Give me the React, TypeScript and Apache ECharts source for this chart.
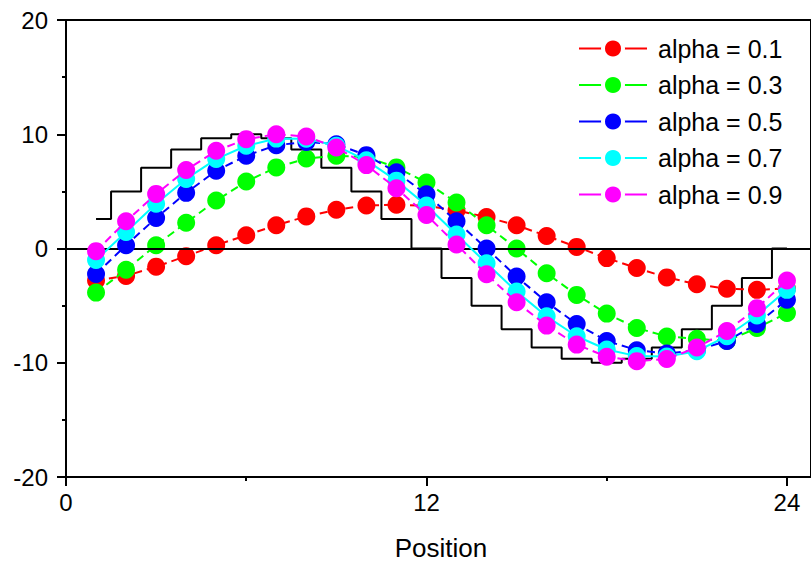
import React, { useEffect, useRef } from "react";
import * as echarts from "echarts";

// Sample positions along the x axis
const positions = [1, 2, 3, 4, 5, 6, 7, 8, 9, 10, 11, 12, 13, 14, 15, 16, 17, 18, 19, 20, 21, 22, 23, 24];

// Reference signal drawn as a step line
const signal = [
  2.59, 5, 7.07, 8.66, 9.66, 10, 9.66, 8.66, 7.07, 5, 2.59, 0,
  -2.59, -5, -7.07, -8.66, -9.66, -10, -9.66, -8.66, -7.07, -5, -2.59, 0,
];

// Exponentially smoothed curves for each alpha
const alpha01 = [
  -2.8, -2.4, -1.59, -0.67, 0.29, 1.16, 2.03, 2.81, 3.39, 3.77, 3.83, 3.75,
  3.33, 2.75, 2.03, 1.1, 0.14, -0.84, -1.71, -2.53, -3.13, -3.52, -3.62, -3.5,
];
const alpha03 = [
  -3.86, -1.86, 0.29, 2.26, 4.2, 5.86, 7.1, 7.88, 8.12, 8.0, 7.1, 5.77,
  4.03, 2.03, 0, -2.17, -4.06, -5.7, -6.96, -7.7, -7.9, -8.1, -6.96, -5.65,
];
const alpha05 = [
  -2.23, 0.29, 2.67, 4.87, 6.81, 8.12, 9.04, 9.33, 9.13, 8.17, 6.67, 4.74,
  2.38, 0.0, -2.46, -4.7, -6.61, -8.09, -8.9, -9.2, -8.9, -8.09, -6.61, -4.49,
];
const alpha07 = [
  -1.01, 1.45, 3.91, 6.09, 7.83, 8.99, 9.62, 9.6, 8.99, 7.72, 5.94, 3.77,
  1.22, -1.3, -3.77, -5.94, -7.68, -8.84, -9.42, -9.45, -8.99, -7.68, -5.86, -3.62,
];
const alpha09 = [
  -0.23, 2.38, 4.78, 6.87, 8.55, 9.57, 10.0, 9.8, 8.84, 7.3, 5.27, 2.93,
  0.35, -2.26, -4.7, -6.75, -8.41, -9.47, -9.86, -9.67, -8.67, -7.22, -5.22, -2.8,
];

const seriesNames = ["alpha = 0.1", "alpha = 0.3", "alpha = 0.5", "alpha = 0.7", "alpha = 0.9"];
const seriesValues = [alpha01, alpha03, alpha05, alpha07, alpha09];
const seriesColors = ["#ff0000", "#00ff00", "#0000ff", "#00ffff", "#ff00ff"];
const seriesDashed = [true, true, true, false, true];

const xMajorTicks = [0, 12, 24];
const xMinorTicks = [6, 18];
const xAxisName = "Position";

const FONT = "'Liberation Sans', Arial, Helvetica, sans-serif";

export default function App() {
  const ref = useRef<HTMLDivElement>(null);

  useEffect(() => {
    if (!ref.current) return;
    const chart = echarts.init(ref.current, undefined, { renderer: "svg" });

    const pairs = (vals: number[]) => positions.map((x, i) => [x, vals[i]]);

    const smoothSeries = seriesNames.map((name, k) => ({
      name,
      type: "line",
      xAxisIndex: 0,
      yAxisIndex: 0,
      data: pairs(seriesValues[k]),
      symbol: "circle",
      symbolSize: 18,
      showSymbol: true,
      itemStyle: { color: seriesColors[k] },
      lineStyle: {
        color: seriesColors[k],
        width: 2,
        type: seriesDashed[k] ? [8, 5] : "solid",
      },
      emphasis: { disabled: true },
      z: 3 + k,
    }));

    const option: any = {
      animation: false,
      textStyle: { fontFamily: FONT },
      grid: {
        left: 66,
        top: 20,
        right: 0,
        bottom: 86,
        show: true,
        borderColor: "#000",
        borderWidth: 2,
        backgroundColor: "transparent",
      },
      legend: {
        orient: "vertical",
        left: 573,
        top: 31,
        itemWidth: 68,
        itemHeight: 25,
        itemGap: 11.5,
        data: seriesNames,
        textStyle: { fontSize: 25, color: "#000", fontFamily: FONT, padding: [0, 0, 0, 6] },
        lineStyle: { type: "solid", width: 2 },
        itemStyle: { borderColor: "#fff", borderWidth: 4 },
        selectedMode: false,
      },
      xAxis: [
        {
          type: "value",
          min: 0,
          max: 24.8,
          position: "bottom",
          name: xAxisName,
          nameLocation: "middle",
          nameGap: 58,
          nameTextStyle: { fontSize: 26, color: "#000", fontFamily: FONT, padding: [0, 0, 0, 5] },
          axisLine: { show: true, onZero: false, lineStyle: { color: "#000", width: 2 } },
          axisTick: {
            show: true,
            inside: false,
            length: 9,
            customValues: xMajorTicks,
            lineStyle: { color: "#000", width: 2 },
          },
          axisLabel: {
            fontSize: 24,
            color: "#000",
            fontFamily: FONT,
            margin: 13,
            customValues: xMajorTicks,
          },
          splitLine: { show: false },
        },
        {
          type: "value",
          min: 0,
          max: 24.8,
          position: "bottom",
          axisLine: { show: false, onZero: false },
          axisTick: {
            show: true,
            inside: false,
            length: 4,
            customValues: xMinorTicks,
            lineStyle: { color: "#000", width: 2 },
          },
          axisLabel: { show: false },
          splitLine: { show: false },
        },
      ],
      yAxis: {
        type: "value",
        min: -20,
        max: 20,
        interval: 10,
        axisLine: { show: true, onZero: false, lineStyle: { color: "#000", width: 2 } },
        axisTick: { show: true, inside: false, length: 9, lineStyle: { color: "#000", width: 2 } },
        minorTick: { show: true, splitNumber: 2, length: 4, lineStyle: { color: "#000", width: 2 } },
        axisLabel: { fontSize: 24, color: "#000", fontFamily: FONT, margin: 18 },
        splitLine: { show: false },
      },
      series: [
        {
          name: "signal",
          type: "line",
          step: "middle",
          xAxisIndex: 0,
          yAxisIndex: 0,
          data: pairs(signal),
          showSymbol: false,
          symbol: "none",
          lineStyle: { color: "#000", width: 2 },
          emphasis: { disabled: true },
          z: 2,
          markLine: {
            silent: true,
            symbol: ["none", "none"],
            label: { show: false },
            lineStyle: { color: "#000", width: 2, type: "solid" },
            data: [{ yAxis: 0 }],
          },
        },
        ...smoothSeries,
      ],
    };

    chart.setOption(option);
    return () => chart.dispose();
  }, []);

  return (
    <div
      ref={ref}
      style={{ position: "fixed", left: 0, top: 0, width: 811, height: 566, background: "#fff" }}
    />
  );
}
